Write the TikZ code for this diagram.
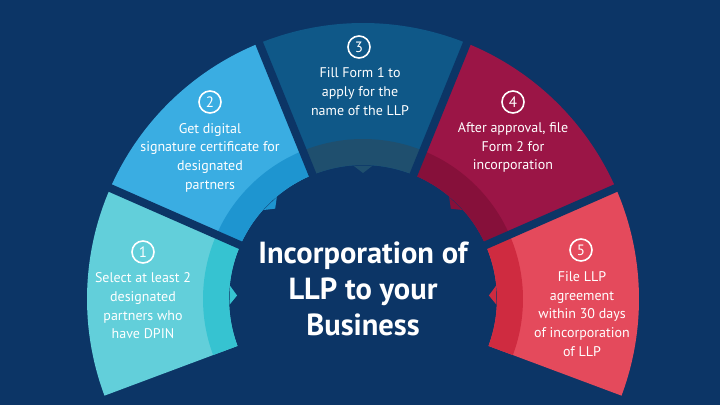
\documentclass[tikz,border=0pt]{standalone}
\usepackage{fontspec}
\setmainfont{PT Sans}
\begin{document}
\begin{tikzpicture}[x=1pt,y=1pt,
  segtext/.style={text=white,align=center,font={\fontsize{14}{18.7}\selectfont},inner sep=0pt},
  numcirc/.style={circle,draw=white,line width=1.6pt,minimum size=22pt,inner sep=0pt,text=white,font={\fontsize{15}{15}\selectfont}},
  titletext/.style={text=white,align=center,font={\fontsize{30.5}{36}\selectfont\bfseries},inner sep=0pt}]
\definecolor{bg}{HTML}{0C3566}
\definecolor{sA}{HTML}{62CFDA}\definecolor{bA}{HTML}{36C3D1}
\definecolor{sB}{HTML}{3AADE2}\definecolor{bB}{HTML}{1E95D0}
\definecolor{sC}{HTML}{0F5888}\definecolor{bC}{HTML}{1F4F6E}
\definecolor{sD}{HTML}{9B1546}\definecolor{bD}{HTML}{86103A}
\definecolor{sE}{HTML}{E44A5C}\definecolor{bE}{HTML}{CF2B40}
\useasboundingbox (0,0) rectangle (720,405);
\fill[bg] (0,0) rectangle (720,405);
\begin{scope}[shift={(363,106)}]
\foreach \a/\b/\c/\d in {200.5/156.3/sA/bA, 156.3/112.1/sB/bB, 112.1/67.9/sC/bC, 67.9/23.7/sD/bD, 23.7/-20.5/sE/bE}{
  \pgfmathsetmacro\m{(\a+\b)/2}
  \fill[\c] (\a:134) arc[start angle=\a,end angle=\b,radius=134] -- (\b:276) arc[start angle=\b,end angle=\a,radius=276] -- cycle;
  \fill[\d] (\a:134) arc[start angle=\a,end angle=\b,radius=134] -- (\b:160) arc[start angle=\b,end angle=\a,radius=160] -- cycle;
  \fill[\d] ({\m+4}:133.5) -- (\m:126) -- ({\m-4}:133.5) -- cycle;
}
\foreach \t in {156.3,112.1,67.9,23.7}{
  \draw[bg,line width=8pt] (\t:110) -- (\t:300);
}
\end{scope}
\node[numcirc] (n1) at (143,153) {1};
\node[segtext] (t1) at (143,99) {Select at least 2\\designated\\partners who\\have DPIN};
\node[numcirc] (n2) at (210,303) {2};
\node[segtext] (t2) at (210,247.5) {Get digital\\signature certificate for\\designated\\partners};
\node[numcirc] (n3) at (359,358) {3};
\node[segtext] (t3) at (360,313.3) {Fill Form 1 to\\apply for the\\name of the LLP};
\node[numcirc] (n4) at (513,303) {4};
\node[segtext] (t4) at (513,257.3) {After approval, file\\Form 2 for\\incorporation};
\node[numcirc] (n5) at (581,155) {5};
\node[segtext] (t5) at (582,91) {File LLP\\agreement\\within 30 days\\of incorporation\\of LLP};
\node[titletext] (title) at (363,116) {Incorporation of\\LLP to your\\Business};
\end{tikzpicture}
\end{document}
